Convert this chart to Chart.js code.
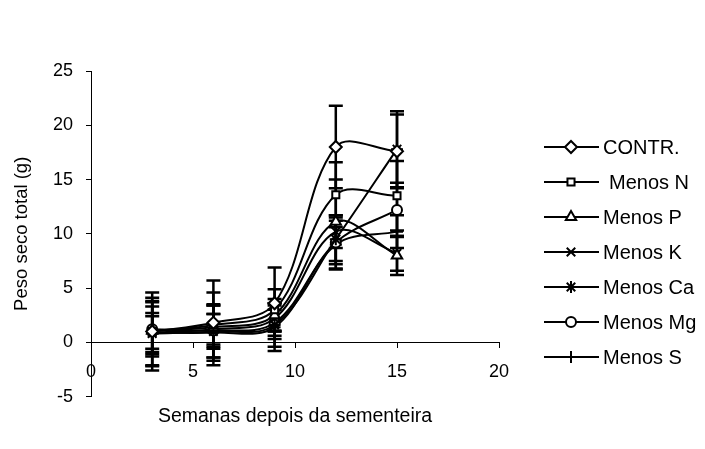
<!DOCTYPE html>
<html>
<head>
<meta charset="utf-8">
<script src="https://cdn.jsdelivr.net/npm/chart.js@4.4.0/dist/chart.umd.min.js"></script>
<style>
  body { margin: 0; background: #fff; }
</style>
</head>
<body>
<canvas id="myChart" width="705" height="449"></canvas>
<script>
'use strict';
// semanas depois da sementeira
let weeks = [3, 6, 9, 12, 15];
let seriesNames = ['CONTR.', 'Menos N', 'Menos P', 'Menos K', 'Menos Ca', 'Menos Mg', 'Menos S'];

// peso seco total (g)
let contr  = [1.0, 1.8, 3.6, 18.0, 17.6];
let menosN = [1.0, 1.6, 3.0, 13.6, 13.5];
let menosP = [1.1, 1.4, 2.5, 11.1, 8.0];
let menosK = [0.9, 1.2, 2.2, 10.2, 8.2];
let menosCa = [0.8, 1.0, 1.6, 9.5, 17.8];
let menosMg = [1.2, 1.1, 1.8, 9.2, 12.2];
let menosS = [0.9, 0.9, 1.4, 9.0, 10.2];

// error bar half-widths
let errContr  = [3.6, 3.9, 3.3, 3.8, 3.4];
let errN = [3.1, 3.0, 1.9, 3.0, 3.2];
let errP = [2.2, 2.0, 1.5, 3.9, 1.8];
let errK = [1.5, 1.4, 1.2, 1.5, 1.6];
let errCa = [3.0, 2.4, 2.0, 2.0, 3.5];
let errMg = [2.5, 1.5, 1.2, 2.5, 2.5];
let errS = [1.8, 2.6, 2.2, 2.2, 1.5];

let yTicks = [-5, 0, 5, 10, 15, 20, 25];
let xTicks = [0, 5, 10, 15, 20];

let allValues = [contr, menosN, menosP, menosK, menosCa, menosMg, menosS];
let allErrors = [errContr, errN, errP, errK, errCa, errMg, errS];
let pointStyles = ['rectRot', 'rect', 'triangle', 'crossRot', 'star', 'circle', 'cross'];
let pointSizes = [6, 5, 6, 6, 6, 5, 6];

Chart.defaults.font.family = '"Liberation Sans", Arial, sans-serif';
Chart.defaults.color = '#000';

let datasets = [];
for (let i = 0; i < seriesNames.length; i++) {
    datasets.push({
        label: seriesNames[i],
        data: weeks.map((w, j) => ({ x: w, y: allValues[i][j] })),
        errors: allErrors[i],
        borderColor: '#000',
        borderWidth: 2,
        tension: 0.35,
        pointStyle: pointStyles[i],
        pointRadius: pointSizes[i],
        pointBorderWidth: 2,
        pointBorderColor: '#000',
        pointBackgroundColor: '#fff'
    });
}

// vertical error bars with caps
let errorBars = {
    id: 'errorBars',
    beforeDatasetsDraw(chart) {
        let ctx = chart.ctx;
        let xs = chart.scales.x;
        let ys = chart.scales.y;
        ctx.save();
        ctx.strokeStyle = '#000';
        ctx.lineWidth = 2.5;
        chart.data.datasets.forEach(ds => {
            ds.data.forEach((p, j) => {
                let e = ds.errors[j];
                let px = xs.getPixelForValue(p.x);
                let top = ys.getPixelForValue(p.y + e);
                let bot = ys.getPixelForValue(p.y - e);
                ctx.beginPath();
                ctx.moveTo(px, top);
                ctx.lineTo(px, bot);
                ctx.moveTo(px - 7, top);
                ctx.lineTo(px + 7, top);
                ctx.moveTo(px - 7, bot);
                ctx.lineTo(px + 7, bot);
                ctx.stroke();
            });
        });
        ctx.restore();
    }
};

// legend: line with marker, then name
let sideLegend = {
    id: 'sideLegend',
    afterDraw(chart) {
        let ctx = chart.ctx;
        ctx.save();
        chart.data.datasets.forEach((ds, i) => {
            let y = 147 + i * 35;
            ctx.strokeStyle = '#000';
            ctx.lineWidth = 2;
            ctx.beginPath();
            ctx.moveTo(544, y);
            ctx.lineTo(599, y);
            ctx.stroke();
            ctx.fillStyle = '#fff';
            Chart.helpers.drawPoint(ctx, {
                pointStyle: ds.pointStyle,
                radius: ds.pointRadius,
                borderWidth: 2
            }, 571, y);
            ctx.fillStyle = '#000';
            ctx.font = '20px "Liberation Sans", Arial, sans-serif';
            ctx.textBaseline = 'middle';
            ctx.fillText(ds.label, i === 1 ? 609 : 603, y + 1);
        });
        ctx.restore();
    }
};

let ctx = document.getElementById('myChart').getContext('2d');
let chart = new Chart(ctx, {
    type: 'line',
    data: { datasets: datasets },
    options: {
        responsive: false,
        animation: false,
        layout: { padding: { top: 71, right: 206, left: 0, bottom: 0 } },
        plugins: {
            legend: { display: false },
            tooltip: { enabled: false },
            title: {
                display: true,
                position: 'bottom',
                fullSize: false,
                text: 'Semanas depois da sementeira',
                font: { size: 19.5, weight: 'normal' },
                padding: { top: 8, bottom: 21 }
            }
        },
        scales: {
            x: {
                type: 'linear',
                position: { y: 0 },
                min: 0,
                max: 20,
                afterBuildTicks: s => { s.ticks = xTicks.map(v => ({ value: v })); },
                ticks: { font: { size: 18 }, padding: 14, color: '#000' },
                grid: { drawOnChartArea: false, drawTicks: true, tickLength: 5, color: '#000' },
                border: { display: true, color: '#000', width: 1 }
            },
            y: {
                min: -5,
                max: 25,
                afterBuildTicks: s => { s.ticks = yTicks.map(v => ({ value: v })); },
                afterFit: s => { s.width = 91; },
                ticks: { font: { size: 18 }, padding: 13, color: '#000' },
                grid: { drawOnChartArea: false, drawTicks: true, tickLength: 5, color: '#000' },
                border: { display: true, color: '#000', width: 1 },
                title: {
                    display: true,
                    text: 'Peso seco total (g)',
                    font: { size: 18.5 },
                    padding: { top: 11, bottom: 0 }
                }
            }
        }
    },
    plugins: [errorBars, sideLegend]
});
</script>
</body>
</html>
